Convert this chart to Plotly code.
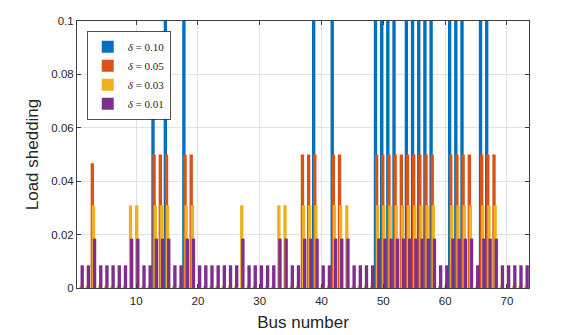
import plotly.graph_objects as go

buses = list(range(1, 74))

series_names = ["<i>δ</i> = 0.10", "<i>δ</i> = 0.05", "<i>δ</i> = 0.03", "<i>δ</i> = 0.01"]
series_colors = ["#0072BD", "#D95319", "#EDB120", "#7E2F8E"]

# delta = 0.10 (values above 0.1 are clipped in the original)
shed_010 = [0, 0, 0, 0, 0, 0, 0, 0, 0, 0,
            0, 0, 0.0716, 0, 0.12, 0, 0, 0.12, 0, 0,
            0, 0, 0, 0, 0, 0, 0, 0, 0, 0,
            0, 0, 0, 0, 0, 0, 0, 0, 0.12, 0,
            0, 0.12, 0, 0, 0, 0, 0, 0, 0.12, 0.12,
            0.12, 0.12, 0, 0.12, 0.12, 0.12, 0.12, 0.12, 0, 0,
            0.12, 0.12, 0.12, 0, 0, 0.12, 0.12, 0, 0, 0,
            0, 0, 0]

shed_005 = [0, 0, 0.0467, 0, 0, 0, 0, 0, 0, 0,
            0, 0, 0.05, 0.05, 0.05, 0, 0, 0.05, 0.05, 0,
            0, 0, 0, 0, 0, 0, 0, 0, 0, 0,
            0, 0, 0, 0, 0, 0, 0.05, 0.05, 0.05, 0,
            0, 0.05, 0.05, 0, 0, 0, 0, 0, 0.05, 0.05,
            0.05, 0.05, 0.05, 0.05, 0.05, 0.05, 0.05, 0.05, 0, 0,
            0.05, 0.05, 0.05, 0.05, 0, 0.05, 0.05, 0.05, 0, 0,
            0, 0, 0]

shed_003 = [0.0008, 0.0008, 0.031, 0.0008, 0.0008, 0.0008, 0.0008, 0.0008, 0.031, 0.031,
            0.0008, 0.0008, 0.031, 0.031, 0.031, 0.0008, 0.0008, 0.031, 0.031, 0.0008,
            0.0008, 0.0008, 0.0008, 0.0008, 0.0008, 0.0008, 0.031, 0.0008, 0.0008, 0.0008,
            0.0008, 0.0008, 0.031, 0.031, 0.0008, 0.0008, 0.031, 0.031, 0.031, 0.0008,
            0.0008, 0.031, 0.031, 0.031, 0.0008, 0.0008, 0.0008, 0.0008, 0.031, 0.031,
            0.031, 0.031, 0.031, 0.031, 0.031, 0.031, 0.031, 0.031, 0.0008, 0.0008,
            0.031, 0.031, 0.031, 0.031, 0.0008, 0.031, 0.031, 0.031, 0.0008, 0.0008,
            0.0008, 0.0008, 0.0008]

shed_001 = [0.0085, 0.0085, 0.0185, 0.0085, 0.0085, 0.0085, 0.0085, 0.0085, 0.0185, 0.0185,
            0.0085, 0.0085, 0.0185, 0.0185, 0.0185, 0.0085, 0.0085, 0.0185, 0.0185, 0.0085,
            0.0085, 0.0085, 0.0085, 0.0085, 0.0085, 0.0085, 0.0185, 0.0085, 0.0085, 0.0085,
            0.0085, 0.0085, 0.0185, 0.0185, 0.0085, 0.0085, 0.0185, 0.0185, 0.0185, 0.0085,
            0.0085, 0.0185, 0.0185, 0.0185, 0.0085, 0.0085, 0.0085, 0.0085, 0.0185, 0.0185,
            0.0185, 0.0185, 0.0185, 0.0185, 0.0185, 0.0185, 0.0185, 0.0185, 0.0085, 0.0085,
            0.0185, 0.0185, 0.0185, 0.0185, 0.0085, 0.0185, 0.0185, 0.0185, 0.0085, 0.0085,
            0.0085, 0.0085, 0.0085]

series_values = [shed_010, shed_005, shed_003, shed_001]

y_ticks = [0, 0.02, 0.04, 0.06, 0.08, 0.1]
y_tick_labels = ["0", "0.02", "0.04", "0.06", "0.08", "0.1"]
x_ticks = [10, 20, 30, 40, 50, 60, 70]

bar_width = 0.545
bar_offsets = [-0.545, -0.364, -0.182, 0.0]

fig = go.Figure()
for name, color, vals, off in zip(series_names, series_colors, series_values, bar_offsets):
    fig.add_trace(go.Bar(
        x=buses, y=vals, name=name,
        width=bar_width, offset=off,
        marker=dict(color=color, line=dict(width=0)),
    ))

axis_color = "#262626"
fig.update_layout(
    width=577, height=327,
    margin=dict(l=69, r=56, t=13, b=47),
    barmode="overlay",
    paper_bgcolor="white", plot_bgcolor="white",
    font=dict(family="Liberation Sans, Arial, sans-serif", color=axis_color, size=11.5),
    showlegend=True,
    legend=dict(
        x=0.022, y=0.961, xanchor="left", yanchor="top",
        bgcolor="white", bordercolor=axis_color, borderwidth=0.8,
        font=dict(family="Liberation Serif, Times New Roman, serif", size=11, color=axis_color),
        traceorder="normal", itemwidth=30,
    ),
    xaxis=dict(
        range=[0.43, 73.57], tickvals=x_ticks,
        showgrid=True, gridcolor="#e2e2e2", gridwidth=1,
        showline=True, linecolor="#404040", linewidth=1, mirror="allticks",
        ticks="inside", ticklen=4, tickcolor="#404040",
        zeroline=False, ticklabelstandoff=2, automargin=False,
        title=dict(text="Bus number", font=dict(size=17, color=axis_color), standoff=10),
        tickfont=dict(size=11.5, color=axis_color),
    ),
    yaxis=dict(
        range=[0, 0.1], tickvals=y_ticks, ticktext=y_tick_labels,
        showgrid=True, gridcolor="#e2e2e2", gridwidth=1,
        showline=True, linecolor="#404040", linewidth=1, mirror="allticks",
        ticks="inside", ticklen=4, tickcolor="#404040",
        zeroline=False, automargin=False,
        title=dict(text="Load shedding", font=dict(size=17, color=axis_color), standoff=8),
        tickfont=dict(size=11.5, color=axis_color),
    ),
)

fig.write_html("out.html")
